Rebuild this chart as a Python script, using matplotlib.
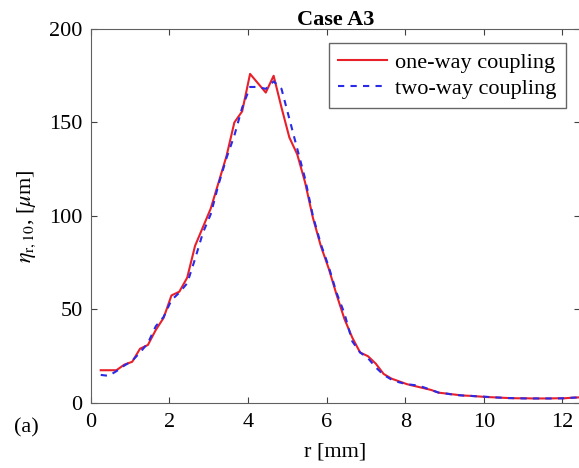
import numpy as np
import matplotlib
matplotlib.use("Agg")
import matplotlib.pyplot as plt

plt.rcParams['font.family'] = ['Liberation Serif', 'DejaVu Serif']
plt.rcParams['mathtext.fontset'] = 'stix'

# radial positions [mm]
r = [0.25, 0.45, 0.65, 0.85, 1.05, 1.25, 1.45, 1.65, 1.85, 2.05,
     2.25, 2.45, 2.65, 2.85, 3.05, 3.25, 3.45, 3.65, 3.85, 4.05,
     4.25, 4.45, 4.65, 4.85, 5.05, 5.25, 5.45, 5.65, 5.85, 6.05,
     6.25, 6.45, 6.65, 6.85, 7.05, 7.25, 7.45, 7.65, 7.85, 8.05,
     8.25, 8.45, 8.65, 8.85, 9.05, 9.25, 9.45, 9.65, 9.85, 10.05,
     10.25, 10.45, 10.65, 10.85, 11.05, 11.25, 11.45, 11.65, 11.85, 12.05,
     12.25, 12.45]

one_way = [17.5, 17.5, 17.5, 20.5, 22, 29, 31, 39, 45.5, 57.5,
           59.5, 67, 84, 94, 104, 118, 132, 150, 156, 176,
           171, 166, 175, 158, 142, 133, 118, 99, 84, 72,
           58, 45, 35, 27, 25, 21, 15.5, 13, 11.5, 10,
           9, 8, 7, 5.5, 5, 4.5, 4, 3.8, 3.5, 3.2,
           3, 2.8, 2.6, 2.5, 2.5, 2.4, 2.4, 2.4, 2.5, 2.5,
           2.8, 3]

two_way = [15, 14.5, 17, 20, 22.5, 27, 32, 41, 46, 55,
           59, 64, 77, 91, 101, 117, 131, 143, 158, 169,
           169, 168, 172, 168, 152, 136, 120, 100, 85, 73,
           59, 48, 33, 27, 24, 19, 15, 12.5, 11, 10,
           9.5, 8.5, 7, 5.5, 5, 4.3, 4, 3.8, 3.5, 3.3,
           3, 2.8, 2.6, 2.5, 2.4, 2.4, 2.4, 2.4, 2.4, 2.5,
           2.8, 3]

fig = plt.figure(figsize=(5.79, 4.68), dpi=100)
ax = fig.add_axes([0.157, 0.139, 0.845, 0.799])

ax.plot(r, one_way, color='#e8202a', lw=1.5, label='one-way coupling')
ax.plot(r, two_way, color='#2a2ae8', lw=1.5, ls=(0, (3, 3)), label='two-way coupling')

ax.set_xlim(0, 12.45)
ax.set_ylim(0, 200)
ax.set_xticks([0, 2, 4, 6, 8, 10, 12])
ax.set_yticks([0, 50, 100, 150, 200])
ax.tick_params(direction='in', top=True, right=True, labelsize=16,
               color='#404040', length=4)
ax.tick_params(axis='x', pad=7)
ax.tick_params(axis='y', pad=6)
for s in ax.spines.values():
    s.set_color('#606060')

ax.set_xlabel('r [mm]', fontsize=16, labelpad=8)
ax.set_ylabel(r'$\eta_{\mathrm{r,10}}$, [$\mu$m]', fontsize=16, labelpad=8)
ax.set_title('Case A3', fontsize=16, fontweight='bold', pad=3)

leg = ax.legend(loc='upper right', fontsize=16, fancybox=False, frameon=True,
                edgecolor='#404040', borderaxespad=0.65, handlelength=2.2,
                borderpad=0.4, labelspacing=0.25, handletextpad=0.4)
leg.get_frame().set_linewidth(1.0)

fig.text(0.025, 0.075, '(a)', fontsize=16)

fig.savefig('out.png', dpi=100)
